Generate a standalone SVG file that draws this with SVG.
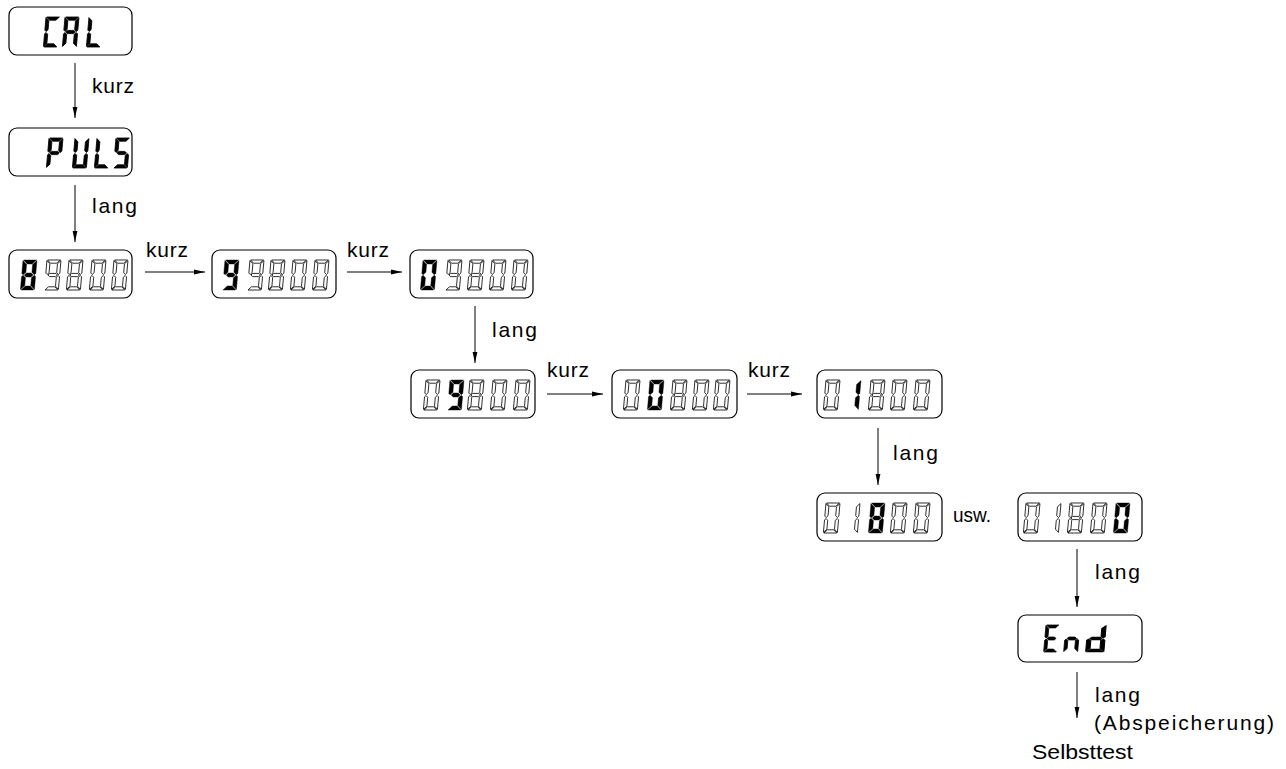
<svg xmlns="http://www.w3.org/2000/svg" xmlns:xlink="http://www.w3.org/1999/xlink" width="1286" height="769" viewBox="0 0 1286 769">
<style>
.bx{fill:#fff;stroke:#000;stroke-width:1.2}
.o{fill:#fff;stroke:#000;stroke-width:0.8;stroke-linejoin:round}
.w{fill:#000;stroke:#000;stroke-width:0.4}
.l{fill:#000;stroke:#000;stroke-width:0.8;stroke-linejoin:round}
.cn line{stroke:#000;stroke-width:1;fill:none;marker-end:url(#ah)}
text{font-family:"Liberation Sans",Arial,sans-serif;font-size:21px;fill:#000}
</style>
<defs>
<marker id="ah" markerWidth="12" markerHeight="6" refX="11" refY="3" orient="auto" markerUnits="userSpaceOnUse"><path d="M0,0.6 L11,3 L0,5.4 Z" fill="#000"/></marker>
<polygon id="ta" points="0.6,0 13.4,0 10.2,3.2 3.8,3.2"/>
<polygon id="tb" points="14,0.6 10.8,3.8 10.8,12.7 12.6,14.5 14,13.1"/>
<polygon id="tc" points="14,29.4 10.8,26.2 10.8,17.3 12.6,15.5 14,16.9"/>
<polygon id="td" points="0.6,30 13.4,30 10.2,26.8 3.8,26.8"/>
<polygon id="te" points="0,29.4 3.2,26.2 3.2,17.3 1.4,15.5 0,16.9"/>
<polygon id="tf" points="0,0.6 3.2,3.8 3.2,12.7 1.4,14.5 0,13.1"/>
<polygon id="tg" points="2.3,15 3.9,13.4 10.1,13.4 11.7,15 10.1,16.6 3.9,16.6"/>
<polygon id="wa" points="0.6,0 13.4,0 9.4,4 4.6,4"/>
<polygon id="wb" points="14,0.6 10,4.6 10,12.2 12.6,14.8 14,13.4"/>
<polygon id="wc" points="14,29.4 10,25.4 10,17.8 12.6,15.2 14,16.6"/>
<polygon id="wd" points="0.6,30 13.4,30 9.4,26 4.6,26"/>
<polygon id="we" points="0,29.4 4,25.4 4,17.8 1.4,15.2 0,16.6"/>
<polygon id="wf" points="0,0.6 4,4.6 4,12.2 1.4,14.8 0,13.4"/>
<polygon id="wg" points="2.6,15 4.6,13 9.4,13 11.4,15 9.4,17 4.6,17"/>
<g id="o0" class="o"><use href="#ta"/><use href="#tb"/><use href="#tc"/><use href="#td"/><use href="#te"/><use href="#tf"/></g>
<g id="o1" class="o"><use href="#tb"/><use href="#tc"/></g>
<g id="o8" class="o"><use href="#ta"/><use href="#tb"/><use href="#tc"/><use href="#td"/><use href="#te"/><use href="#tf"/><use href="#tg"/></g>
<g id="o9" class="o"><use href="#ta"/><use href="#tb"/><use href="#tc"/><use href="#td"/><use href="#tf"/><use href="#tg"/></g>
<g id="w0" class="w"><use href="#wa"/><use href="#wb"/><use href="#wc"/><use href="#wd"/><use href="#we"/><use href="#wf"/></g>
<g id="w1" class="w"><use href="#wb"/><use href="#wc"/></g>
<g id="w8" class="w"><use href="#wa"/><use href="#wb"/><use href="#wc"/><use href="#wd"/><use href="#we"/><use href="#wf"/><use href="#wg"/></g>
<g id="w9" class="w"><use href="#wa"/><use href="#wb"/><use href="#wc"/><use href="#wd"/><use href="#wf"/><use href="#wg"/></g>
<g id="LC" class="l"><use href="#ta"/><use href="#td"/><use href="#te"/><use href="#tf"/></g>
<g id="LA" class="l"><use href="#ta"/><use href="#tb"/><use href="#tc"/><use href="#te"/><use href="#tf"/><use href="#tg"/></g>
<g id="LL" class="l"><use href="#td"/><use href="#te"/><use href="#tf"/></g>
<g id="LP" class="l"><use href="#ta"/><use href="#tb"/><use href="#te"/><use href="#tf"/><use href="#tg"/></g>
<g id="LU" class="l"><use href="#tb"/><use href="#tc"/><use href="#td"/><use href="#te"/><use href="#tf"/></g>
<g id="LS" class="l"><use href="#ta"/><use href="#tc"/><use href="#td"/><use href="#tf"/><use href="#tg"/></g>
<g id="LE" class="l"><use href="#ta"/><use href="#td"/><use href="#te"/><use href="#tf"/><use href="#tg"/></g>
<g id="Ln" class="l"><use href="#tc"/><use href="#te"/><use href="#tg"/></g>
<g id="Ld" class="l"><use href="#tb"/><use href="#tc"/><use href="#td"/><use href="#te"/><use href="#tg"/></g>
</defs>
<rect width="1286" height="769" fill="#fff"/>

<g id="node-cal" transform="translate(9,7)">
<rect class="bx" width="123" height="48" rx="8"/>
<g transform="translate(0,10) skewX(-5)"><use href="#LC" x="37"/><use href="#LA" x="56"/><use href="#LL" x="80"/></g>
</g>
<g id="node-puls" transform="translate(9,128)">
<rect class="bx" width="123" height="48" rx="8"/>
<g transform="translate(0,10) skewX(-5)"><use href="#LP" x="40"/><use href="#LU" x="66"/><use href="#LL" x="88"/><use href="#LS" x="107"/></g>
</g>
<g id="node-89800" transform="translate(9,250)">
<rect class="bx" width="123" height="48" rx="8"/>
<g transform="translate(0,10) skewX(-5)"><use href="#w8" x="14"/><use href="#o9" x="38"/><use href="#o8" x="60"/><use href="#o0" x="83"/><use href="#o0" x="105"/></g>
</g>
<g id="node-99800" transform="translate(212,250)">
<rect class="bx" width="124" height="48" rx="8"/>
<g transform="translate(0,10) skewX(-5)"><use href="#w9" x="13"/><use href="#o9" x="38"/><use href="#o8" x="59"/><use href="#o0" x="81"/><use href="#o0" x="103"/></g>
</g>
<g id="node-09800a" transform="translate(410,250)">
<rect class="bx" width="123" height="48" rx="8"/>
<g transform="translate(0,10) skewX(-5)"><use href="#w0" x="13"/><use href="#o9" x="38"/><use href="#o8" x="60"/><use href="#o0" x="82"/><use href="#o0" x="104"/></g>
</g>
<g id="node-09800b" transform="translate(411,370)">
<rect class="bx" width="124" height="48" rx="8"/>
<g transform="translate(0,10) skewX(-5)"><use href="#o0" x="15"/><use href="#w9" x="39"/><use href="#o8" x="59"/><use href="#o0" x="82"/><use href="#o0" x="105"/></g>
</g>
<g id="node-00800" transform="translate(612,370)">
<rect class="bx" width="125" height="48" rx="8"/>
<g transform="translate(0,10) skewX(-5)"><use href="#o0" x="14"/><use href="#w0" x="38"/><use href="#o8" x="61"/><use href="#o0" x="83"/><use href="#o0" x="104"/></g>
</g>
<g id="node-01800a" transform="translate(817,370)">
<rect class="bx" width="125" height="48" rx="8"/>
<g transform="translate(0,10) skewX(-5)"><use href="#o0" x="9"/><use href="#w1" x="30"/><use href="#o8" x="54"/><use href="#o0" x="76"/><use href="#o0" x="99"/></g>
</g>
<g id="node-01800b" transform="translate(817,493)">
<rect class="bx" width="125" height="48" rx="8"/>
<g transform="translate(0,10) skewX(-5)"><use href="#o0" x="9"/><use href="#o1" x="29"/><use href="#w8" x="54"/><use href="#o0" x="76"/><use href="#o0" x="99"/></g>
</g>
<g id="node-01800c" transform="translate(1018,493)">
<rect class="bx" width="124" height="48" rx="8"/>
<g transform="translate(0,10) skewX(-5)"><use href="#o0" x="8"/><use href="#o1" x="29"/><use href="#o8" x="52"/><use href="#o0" x="75"/><use href="#w0" x="98"/></g>
</g>
<g id="node-end" transform="translate(1018,615)">
<rect class="bx" width="124" height="47" rx="8"/>
<g transform="translate(0,10) skewX(-5)"><use href="#LE" transform="translate(28,0) scale(0.95,0.9)"/><use href="#Ln" transform="translate(48,0) scale(1,0.9)"/><use href="#Ld" transform="translate(70,0) scale(1.3,0.9)"/></g>
</g>

<g id="connectors" class="cn">
<line x1="75" y1="63" x2="75" y2="118"/>
<line x1="75" y1="185" x2="75" y2="242"/>
<line x1="145" y1="272" x2="205" y2="272"/>
<line x1="347" y1="272" x2="402" y2="272"/>
<line x1="475" y1="306" x2="475" y2="363"/>
<line x1="547" y1="394" x2="603" y2="394"/>
<line x1="747" y1="394" x2="802" y2="394"/>
<line x1="878" y1="428" x2="878" y2="485"/>
<line x1="1077" y1="549" x2="1077" y2="607"/>
<line x1="1077" y1="672" x2="1077" y2="718"/>
</g>

<g id="labels">
<text x="92" y="93" textLength="42" lengthAdjust="spacing">kurz</text>
<text x="92" y="213" textLength="45" lengthAdjust="spacing">lang</text>
<text x="146" y="257" textLength="42" lengthAdjust="spacing">kurz</text>
<text x="347" y="257" textLength="42" lengthAdjust="spacing">kurz</text>
<text x="492" y="337" textLength="45" lengthAdjust="spacing">lang</text>
<text x="547" y="377" textLength="42" lengthAdjust="spacing">kurz</text>
<text x="748" y="377" textLength="42" lengthAdjust="spacing">kurz</text>
<text x="893" y="460" textLength="45" lengthAdjust="spacing">lang</text>
<text x="953" y="522" textLength="38" lengthAdjust="spacingAndGlyphs">usw.</text>
<text x="1095" y="579" textLength="45" lengthAdjust="spacing">lang</text>
<text x="1095" y="702" textLength="45" lengthAdjust="spacing">lang</text>
<text x="1094" y="730" textLength="180" lengthAdjust="spacing">(Abspeicherung)</text>
<text x="1032" y="759" textLength="101" lengthAdjust="spacingAndGlyphs">Selbsttest</text>
</g>
</svg>
